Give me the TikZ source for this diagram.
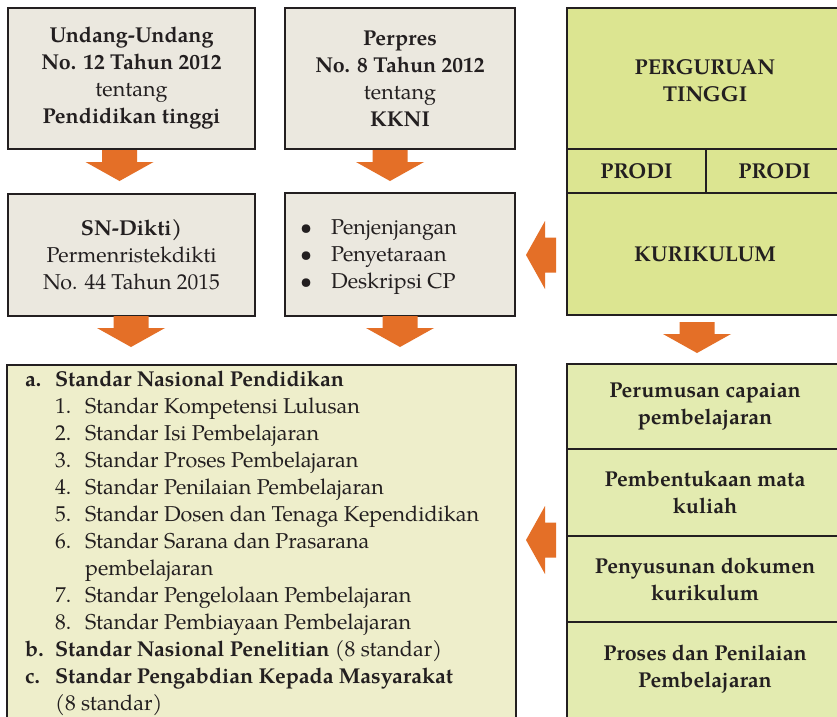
\documentclass[tikz,border=0pt]{standalone}
\usepackage{fontspec}
\setmainfont{texgyrepagella}[Extension=.otf, UprightFont=*-regular, BoldFont=*-bold, ItalicFont=*-italic, BoldItalicFont=*-bolditalic]
\definecolor{bordercol}{HTML}{231F20}
\definecolor{beige}{HTML}{EBE8DF}
\definecolor{ptgreen}{HTML}{DCE591}
\definecolor{snyellow}{HTML}{EEEECB}
\definecolor{cellgreen}{HTML}{E3EBB0}
\definecolor{arroworange}{HTML}{E46F27}
\newcommand{\boxfont}{\fontsize{21.5}{27}\selectfont}
\tikzset{
  graybox/.style={draw=bordercol, line width=2pt, fill=beige, inner sep=0pt, align=center, text=bordercol, font=\boxfont},
  txt/.style={inner sep=0pt, align=center, text=bordercol, font=\boxfont\bfseries},
  frame/.style={draw=bordercol, line width=2pt},
  darrow/.pic={\fill[arroworange] (-17.5,0) -- (17.5,0) -- (17.5,12) -- (34,12) -- (0,31) -- (-34,12) -- (-17.5,12) -- cycle;},
  larrow/.pic={\fill[arroworange] (0,0) -- (19,-34) -- (19,-17.5) -- (30,-17.5) -- (30,17.5) -- (19,17.5) -- (19,34) -- cycle;}
}
\begin{document}
\begin{tikzpicture}[x=1pt,y=-1pt]
\clip (0,0) rectangle (837,716);
\fill[white] (0,0) rectangle (837,716);
% top-left boxes
\node[graybox, minimum width=247pt, minimum height=141pt] (uu) at (131.5,78.5)
  {\textbf{Undang-Undang}\\\textbf{No. 12 Tahun 2012}\\tentang\\\textbf{Pendidikan tinggi}};
\node[graybox, minimum width=230pt, minimum height=141pt] (perpres) at (400,78.5)
  {\textbf{Perpres}\\\textbf{No. 8 Tahun 2012}\\tentang\\\textbf{KKNI}};
\node[graybox, minimum width=247pt, minimum height=122pt] (sndikti) at (131.5,255)
  {\textbf{SN-Dikti)}\\Permenristekdikti\\No. 44 Tahun 2015};
\node[graybox, minimum width=230pt, minimum height=123pt] (kkni) at (400,254.5) {};
\node[anchor=west, inner sep=0pt, align=left, text=bordercol, font=\boxfont] (blist) at (300,257)
  {\makebox[31pt][l]{\textbullet}Penjenjangan\\\makebox[31pt][l]{\textbullet}Penyetaraan\\\makebox[31pt][l]{\textbullet}Deskripsi CP};
% right top column
\fill[ptgreen] (567,8) rectangle (850,315);
\draw[frame] (850,8) -- (567,8) -- (567,315) -- (850,315);
\draw[frame] (567,149) -- (850,149);
\draw[frame] (567,193) -- (850,193);
\draw[frame] (706,149) -- (706,193);
\node[txt] (pt) at (705,80.5) {PERGURUAN\\TINGGI};
\node[txt] (prodia) at (636.5,171) {PRODI};
\node[txt] (prodib) at (774.5,171) {PRODI};
\node[txt] (kur) at (705,254) {KURIKULUM};
% bottom-left box
\fill[snyellow] (7,365) rectangle (516,730);
\draw[frame] (7,730) -- (7,365) -- (516,365) -- (516,730);
\node[anchor=base west, inner sep=0pt, align=left, text=bordercol, font=\boxfont] (snp) at (25,710)
  {\makebox[30pt][l]{\textbf{a.}}\textbf{Standar Nasional Pendidikan}\\
   \hspace*{30pt}\makebox[30pt][l]{1.}Standar Kompetensi Lulusan\\
   \hspace*{30pt}\makebox[30pt][l]{2.}Standar Isi Pembelajaran\\
   \hspace*{30pt}\makebox[30pt][l]{3.}Standar Proses Pembelajaran\\
   \hspace*{30pt}\makebox[30pt][l]{4.}Standar Penilaian Pembelajaran\\
   \hspace*{30pt}\makebox[30pt][l]{5.}Standar Dosen dan Tenaga Kependidikan\\
   \hspace*{30pt}\makebox[30pt][l]{6.}Standar Sarana dan Prasarana\\
   \hspace*{60pt}pembelajaran\\
   \hspace*{30pt}\makebox[30pt][l]{7.}Standar Pengelolaan Pembelajaran\\
   \hspace*{30pt}\makebox[30pt][l]{8.}Standar Pembiayaan Pembelajaran\\
   \makebox[30pt][l]{\textbf{b.}}\textbf{Standar Nasional Penelitian} (8 standar)\\
   \makebox[30pt][l]{\textbf{c.}}\textbf{Standar Pengabdian Kepada Masyarakat}\\
   \hspace*{30pt}(8 standar)};
% bottom-right column
\fill[cellgreen] (567,364) rectangle (850,730);
\draw[frame] (850,364) -- (567,364) -- (567,730);
\draw[frame] (567,449) -- (850,449);
\draw[frame] (567,536) -- (850,536);
\draw[frame] (567,622) -- (850,622);
\node[txt] (cpl) at (705,406.5) {Perumusan capaian\\pembelajaran};
\node[txt] (mk) at (705,492.5) {Pembentukaan mata\\kuliah};
\node[txt] (dok) at (705,579) {Penyusunan dokumen\\kurikulum};
\node[txt] (proses) at (705,669) {Proses dan Penilaian\\Pembelajaran};
% arrows
\pic at (119.5,150) {darrow};
\pic at (390,150) {darrow};
\pic at (131,316) {darrow};
\pic at (400,316) {darrow};
\pic at (697,322) {darrow};
\pic at (526,255) {larrow};
\pic at (526,540) {larrow};
\end{tikzpicture}
\end{document}
